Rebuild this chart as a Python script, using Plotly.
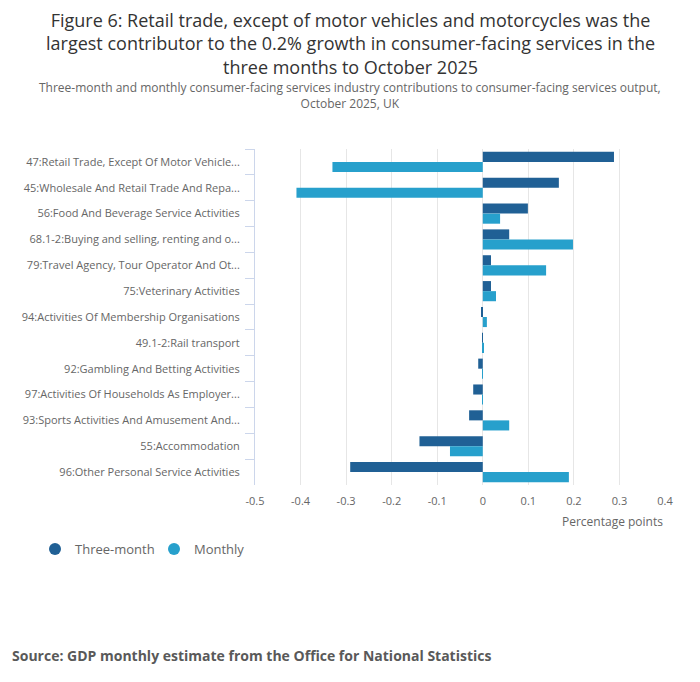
import plotly.graph_objects as go

# contributions to consumer-facing services output, percentage points
industries = [
    "47:Retail Trade, Except Of Motor Vehicle...",
    "45:Wholesale And Retail Trade And Repa...",
    "56:Food And Beverage Service Activities",
    "68.1-2:Buying and selling, renting and o...",
    "79:Travel Agency, Tour Operator And Ot...",
    "75:Veterinary Activities",
    "94:Activities Of Membership Organisations",
    "49.1-2:Rail transport",
    "92:Gambling And Betting Activities",
    "97:Activities Of Households As Employer...",
    "93:Sports Activities And Amusement And...",
    "55:Accommodation",
    "96:Other Personal Service Activities",
]
three_month = [0.288, 0.167, 0.099, 0.058, 0.018, 0.018, -0.002, -0.001,
               -0.010, -0.021, -0.030, -0.139, -0.291]
monthly = [-0.330, -0.409, 0.038, 0.198, 0.139, 0.029, 0.009, 0.001,
           -0.001, -0.001, 0.058, -0.072, 0.189]

title = ("Figure 6: Retail trade, except of motor vehicles and motorcycles was the<br>"
         "largest contributor to the 0.2% growth in consumer-facing services in the<br>"
         "three months to October 2025")
subtitle = ("Three-month and monthly consumer-facing services industry contributions to consumer-facing services output,<br>"
            "October 2025, UK")

dark = "#206095"
light = "#27a0cc"
grey = "#666666"
font = "Open Sans"

W, H = 700, 682
OFF = 8  # page puts the figure 8px in from the corner
# plot area (screen pixels), used to place notes in paper coords
L, R, T, B = 255 - OFF, 665 - OFF, 149 - OFF, 485 - OFF
def px(x):
    return (x - OFF - L) / (R - L)
def py(y):
    return (B - (y - OFF)) / (B - T)

fig = go.Figure()
fig.add_trace(go.Bar(y=industries, x=three_month, orientation="h", name="Three-month",
                     marker=dict(color=dark, line=dict(width=0)), showlegend=False))
fig.add_trace(go.Bar(y=industries, x=monthly, orientation="h", name="Monthly",
                     marker=dict(color=light, line=dict(width=0)), showlegend=False))

# legend entries with round markers
for nm, col in [("Three-month", dark), ("Monthly", light)]:
    fig.add_trace(go.Scatter(x=[None], y=[None], mode="markers", name=nm,
                             marker=dict(color=col, size=12, symbol="circle")))

fig.update_layout(
    width=W, height=H,
    margin=dict(l=L, r=W - R, t=T, b=H - B),
    paper_bgcolor="white", plot_bgcolor="white",
    font=dict(family=font, color=grey, size=11),
    barmode="group", bargap=0.22, bargroupgap=0,
    legend=dict(orientation="h", xref="container", yref="container", x=27 / W, y=1 - (549 - OFF) / H,
                xanchor="left", yanchor="middle", font=dict(size=13, color=grey),
                entrywidth=74, entrywidthmode="pixels", traceorder="normal"),
)

fig.update_xaxes(range=[-0.5, 0.4], tickvals=[-0.5, -0.4, -0.3, -0.2, -0.1, 0, 0.1, 0.2, 0.3, 0.4],
                 ticktext=["-0.5", "-0.4", "-0.3", "-0.2", "-0.1", "0", "0.1", "0.2", "0.3", "0.4"],
                 showgrid=True, gridcolor="#e6e6e6", gridwidth=1, zeroline=False,
                 showline=False, ticks="", ticklabelstandoff=8, tickfont=dict(size=11, color=grey))
fig.update_yaxes(autorange="reversed", showgrid=False, showline=True, linecolor="#ccd6eb",
                 ticks="outside", tickson="boundaries", ticklen=9, tickcolor="#ccd6eb",
                 ticklabelstandoff=12, tickfont=dict(size=11, color=grey))

fig.add_annotation(text=title, xref="paper", yref="paper", x=px(350), y=py(43),
                   xanchor="center", yanchor="middle", showarrow=False,
                   font=dict(size=18, color="#333333"))
fig.add_annotation(text=subtitle, xref="paper", yref="paper", x=px(350), y=py(96),
                   xanchor="center", yanchor="middle", showarrow=False, font=dict(size=12, color=grey))
fig.add_annotation(text="Percentage points", xref="paper", yref="paper", x=1, y=py(521),
                   xanchor="right", yanchor="middle", showarrow=False, font=dict(size=12, color=grey))
fig.add_annotation(text="<b>Source: GDP monthly estimate from the Office for National Statistics</b>",
                   xref="paper", yref="paper", x=px(10), y=py(655),
                   xanchor="left", yanchor="middle", showarrow=False, font=dict(size=14, color="#595959"))

fig.write_html("out.html")
